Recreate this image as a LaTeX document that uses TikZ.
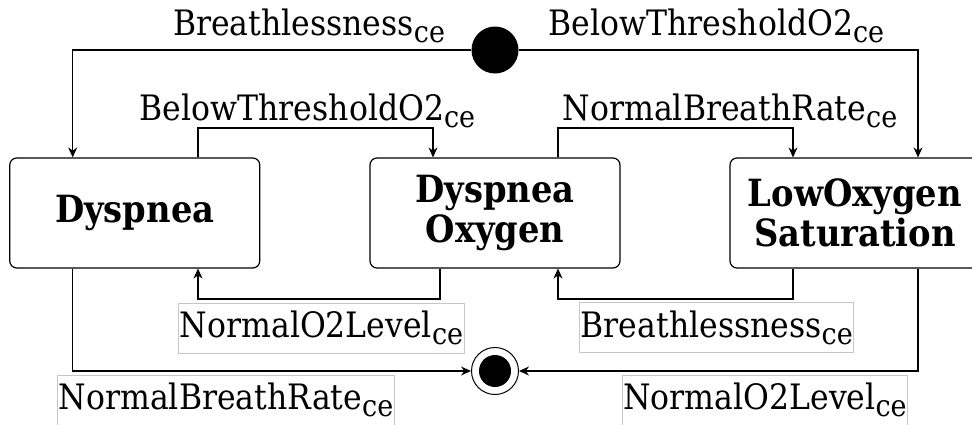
\documentclass[tikz,border=0pt]{standalone}
\usepackage{fontspec}
\setmainfont{DejaVu Serif}[FakeStretch=0.9]
\usetikzlibrary{arrows.meta}
\newcommand{\cesub}{\raisebox{-7pt}{\fontsize{30}{30}\selectfont ce}}
\begin{document}
\begin{tikzpicture}[x=1pt,y=-1pt,
  state/.style={draw, line width=1.2pt, rounded corners=7pt, minimum width=250pt, minimum height=110pt, align=center, font=\fontsize{37.5}{40}\selectfont\bfseries, inner sep=0pt},
  lbl/.style={font=\fontsize{35}{40}\selectfont, inner sep=0pt},
  blbl/.style={lbl, draw=black!22, line width=0.8pt, inner xsep=1pt, minimum height=50pt},
  arr/.style={-{Stealth[length=10pt,width=9pt]}, line width=1.2pt},
  pseudo/.style={circle, inner sep=0pt, minimum size=47pt}]
\useasboundingbox (0,0) rectangle (972,424);
\node[state] (dys) at (134.75,213) {Dyspnea};
\node[state] (dox) at (495,213) {Dyspnea\\Oxygen};
\node[state] (low) at (855,213) {LowOxygen\\Saturation};
\node[pseudo, fill=black] (init) at (495,50) {};
\node[pseudo, draw, line width=1pt, fill=white] (fin) at (495,371) {};
\node[circle, fill=black, inner sep=0pt, minimum size=32pt] (finin) at (495,371) {};
\coordinate (x1) at (72.7,0);
\coordinate (x2) at (198,0);
\coordinate (x3) at (433,0);
\coordinate (x4) at (558,0);
\coordinate (x5) at (793,0);
\coordinate (x6) at (918,0);
\coordinate (x7) at (440,0);
\coordinate (y1) at (0,128);
\coordinate (y2) at (0,299);
\draw[arr] (init.west) -| (x1 |- dys.north);
\draw[arr] (init.east) -| (x6 |- low.north);
\draw[arr] (x2 |- dys.north) |- (x3 |- y1) -- (x3 |- dox.north);
\draw[arr] (x4 |- dox.north) |- (x5 |- y1) -- (x5 |- low.north);
\draw[arr] (x7 |- dox.south) |- (x2 |- y2) -- (x2 |- dys.south);
\draw[arr] (x5 |- low.south) |- (x4 |- y2) -- (x4 |- dox.south);
\draw[arr] (x1 |- dys.south) |- (fin.west);
\draw[arr] (x6 |- low.south) |- (fin.east);
\node[lbl, anchor=base] (l1) at (309,35) {Breathlessness\cesub};
\node[lbl, anchor=base] (l2) at (716.5,35) {BelowThresholdO2\cesub};
\node[lbl, anchor=base] (l3) at (307.5,120) {BelowThresholdO2\cesub};
\node[lbl, anchor=base] (l4) at (730,120) {NormalBreathRate\cesub};
\node[blbl] (l5) at (321.5,328) {NormalO2Level\cesub};
\node[blbl] (l6) at (716.75,327.5) {Breathlessness\cesub};
\node[blbl] (l7) at (226,400) {NormalBreathRate\cesub};
\node[blbl] (l8) at (765,400) {NormalO2Level\cesub};
\end{tikzpicture}
\end{document}
